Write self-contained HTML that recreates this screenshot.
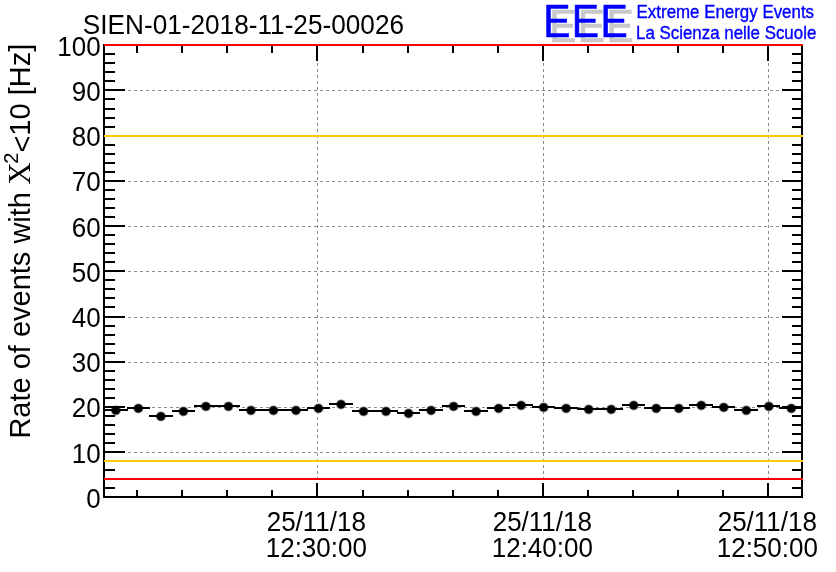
<!DOCTYPE html><html><head><meta charset="utf-8"><style>html,body{margin:0;padding:0;background:#fff;}body{width:836px;height:572px;overflow:hidden;}svg{display:block;}text{font-family:"Liberation Sans",Arial,sans-serif;}</style></head><body>
<svg width="836" height="572" viewBox="0 0 836 572" style="will-change:transform">
<rect width="836" height="572" fill="#fff"/>
<path d="M105 452.5H801 M105 407.5H801 M105 362.5H801 M105 317.5H801 M105 271.5H801 M105 226.5H801 M105 181.5H801 M105 136.5H801 M105 90.5H801 M317.5 46V496 M543.5 46V496 M768.5 46V496" stroke="#8c8c8c" stroke-width="1" stroke-dasharray="3 3" stroke-dashoffset="1" fill="none" shape-rendering="crispEdges"/>
<g fill="#8a8a8a"><circle cx="115.86" cy="410.40" r="5"/><circle cx="138.37" cy="408.40" r="5"/><circle cx="160.89" cy="416.40" r="5"/><circle cx="183.41" cy="411.40" r="5"/><circle cx="205.92" cy="406.40" r="5"/><circle cx="228.44" cy="406.40" r="5"/><circle cx="250.95" cy="410.40" r="5"/><circle cx="273.47" cy="410.40" r="5"/><circle cx="295.99" cy="410.40" r="5"/><circle cx="318.50" cy="408.40" r="5"/><circle cx="341.02" cy="404.40" r="5"/><circle cx="363.54" cy="411.40" r="5"/><circle cx="386.05" cy="411.40" r="5"/><circle cx="408.57" cy="413.40" r="5"/><circle cx="431.08" cy="410.40" r="5"/><circle cx="453.60" cy="406.40" r="5"/><circle cx="476.12" cy="411.40" r="5"/><circle cx="498.63" cy="408.40" r="5"/><circle cx="521.15" cy="405.40" r="5"/><circle cx="543.66" cy="407.40" r="5"/><circle cx="566.18" cy="408.40" r="5"/><circle cx="588.70" cy="409.40" r="5"/><circle cx="611.21" cy="409.40" r="5"/><circle cx="633.73" cy="405.40" r="5"/><circle cx="656.25" cy="408.40" r="5"/><circle cx="678.76" cy="408.40" r="5"/><circle cx="701.28" cy="405.40" r="5"/><circle cx="723.79" cy="407.40" r="5"/><circle cx="746.31" cy="410.40" r="5"/><circle cx="768.83" cy="406.40" r="5"/><circle cx="791.34" cy="408.40" r="5"/></g>
<path d="M104 410H128 M127 408H150 M149 416H173 M172 411H195 M194 406H218 M217 406H240 M239 410H263 M262 410H285 M284 410H308 M307 408H330 M329 404H353 M352 411H375 M374 411H398 M397 413H420 M419 410H443 M442 406H465 M464 411H488 M487 408H510 M509 405H533 M532 407H555 M554 408H578 M577 409H600 M599 409H623 M622 405H645 M644 408H668 M667 408H690 M689 405H713 M712 407H735 M734 410H758 M757 406H780 M779 408H803" stroke="#000" stroke-width="2" fill="none" shape-rendering="crispEdges"/>
<g fill="#000"><circle cx="115.86" cy="410.40" r="4.2"/><circle cx="138.37" cy="408.40" r="4.2"/><circle cx="160.89" cy="416.40" r="4.2"/><circle cx="183.41" cy="411.40" r="4.2"/><circle cx="205.92" cy="406.40" r="4.2"/><circle cx="228.44" cy="406.40" r="4.2"/><circle cx="250.95" cy="410.40" r="4.2"/><circle cx="273.47" cy="410.40" r="4.2"/><circle cx="295.99" cy="410.40" r="4.2"/><circle cx="318.50" cy="408.40" r="4.2"/><circle cx="341.02" cy="404.40" r="4.2"/><circle cx="363.54" cy="411.40" r="4.2"/><circle cx="386.05" cy="411.40" r="4.2"/><circle cx="408.57" cy="413.40" r="4.2"/><circle cx="431.08" cy="410.40" r="4.2"/><circle cx="453.60" cy="406.40" r="4.2"/><circle cx="476.12" cy="411.40" r="4.2"/><circle cx="498.63" cy="408.40" r="4.2"/><circle cx="521.15" cy="405.40" r="4.2"/><circle cx="543.66" cy="407.40" r="4.2"/><circle cx="566.18" cy="408.40" r="4.2"/><circle cx="588.70" cy="409.40" r="4.2"/><circle cx="611.21" cy="409.40" r="4.2"/><circle cx="633.73" cy="405.40" r="4.2"/><circle cx="656.25" cy="408.40" r="4.2"/><circle cx="678.76" cy="408.40" r="4.2"/><circle cx="701.28" cy="405.40" r="4.2"/><circle cx="723.79" cy="407.40" r="4.2"/><circle cx="746.31" cy="410.40" r="4.2"/><circle cx="768.83" cy="406.40" r="4.2"/><circle cx="791.34" cy="408.40" r="4.2"/></g>
<path d="M104 44V498 M103 497H803 M802 44V498 M103 45H803 M105 488H115 M801 488H792 M105 479H115 M801 479H792 M105 470H115 M801 470H792 M105 461H115 M801 461H792 M105 452H125 M801 452H782 M105 443H115 M801 443H792 M105 434H115 M801 434H792 M105 425H115 M801 425H792 M105 416H115 M801 416H792 M105 407H125 M801 407H782 M105 398H115 M801 398H792 M105 389H115 M801 389H792 M105 380H115 M801 380H792 M105 371H115 M801 371H792 M105 362H125 M801 362H782 M105 353H115 M801 353H792 M105 344H115 M801 344H792 M105 335H115 M801 335H792 M105 326H115 M801 326H792 M105 317H125 M801 317H782 M105 307H115 M801 307H792 M105 298H115 M801 298H792 M105 289H115 M801 289H792 M105 280H115 M801 280H792 M105 271H125 M801 271H782 M105 262H115 M801 262H792 M105 253H115 M801 253H792 M105 244H115 M801 244H792 M105 235H115 M801 235H792 M105 226H125 M801 226H782 M105 217H115 M801 217H792 M105 208H115 M801 208H792 M105 199H115 M801 199H792 M105 190H115 M801 190H792 M105 181H125 M801 181H782 M105 172H115 M801 172H792 M105 163H115 M801 163H792 M105 154H115 M801 154H792 M105 145H115 M801 145H792 M105 136H125 M801 136H782 M105 127H115 M801 127H792 M105 118H115 M801 118H792 M105 109H115 M801 109H792 M105 99H115 M801 99H792 M105 90H125 M801 90H782 M105 81H115 M801 81H792 M105 72H115 M801 72H792 M105 63H115 M801 63H792 M105 54H115 M801 54H792 M137 496V490 M137 46V53 M182 496V490 M182 46V53 M227 496V490 M227 46V53 M272 496V490 M272 46V53 M317 496V483 M317 46V61 M363 496V490 M363 46V53 M408 496V490 M408 46V53 M453 496V490 M453 46V53 M498 496V490 M498 46V53 M543 496V483 M543 46V61 M588 496V490 M588 46V53 M633 496V490 M633 46V53 M678 496V490 M678 46V53 M723 496V490 M723 46V53 M768 496V483 M768 46V61" stroke="#000" stroke-width="2" fill="none" shape-rendering="crispEdges"/>
<path d="M104 136H803 M104 461H803" stroke="#ffcc00" stroke-width="2" shape-rendering="crispEdges"/>
<path d="M104 45H803 M104 479H803" stroke="#ff0000" stroke-width="2" shape-rendering="crispEdges"/>
<text transform="translate(100.6,507.8) scale(1,1.08)" font-size="26" text-anchor="end">0</text>
<text transform="translate(100.6,462.6) scale(1,1.08)" font-size="26" text-anchor="end">10</text>
<text transform="translate(100.6,417.4) scale(1,1.08)" font-size="26" text-anchor="end">20</text>
<text transform="translate(100.6,372.1) scale(1,1.08)" font-size="26" text-anchor="end">30</text>
<text transform="translate(100.6,326.9) scale(1,1.08)" font-size="26" text-anchor="end">40</text>
<text transform="translate(100.6,281.7) scale(1,1.08)" font-size="26" text-anchor="end">50</text>
<text transform="translate(100.6,236.5) scale(1,1.08)" font-size="26" text-anchor="end">60</text>
<text transform="translate(100.6,191.3) scale(1,1.08)" font-size="26" text-anchor="end">70</text>
<text transform="translate(100.6,146.0) scale(1,1.08)" font-size="26" text-anchor="end">80</text>
<text transform="translate(100.6,100.8) scale(1,1.08)" font-size="26" text-anchor="end">90</text>
<text transform="translate(100.6,55.6) scale(1,1.08)" font-size="26" text-anchor="end">100</text>
<text transform="translate(316.3,530.6) scale(1,1.05)" font-size="26" text-anchor="middle">25/11/18</text>
<text transform="translate(316.3,557.1) scale(1,1.05)" font-size="26" text-anchor="middle">12:30:00</text>
<text transform="translate(542.3,530.6) scale(1,1.05)" font-size="26" text-anchor="middle">25/11/18</text>
<text transform="translate(542.3,557.1) scale(1,1.05)" font-size="26" text-anchor="middle">12:40:00</text>
<text transform="translate(767.3,530.6) scale(1,1.05)" font-size="26" text-anchor="middle">25/11/18</text>
<text transform="translate(767.3,557.1) scale(1,1.05)" font-size="26" text-anchor="middle">12:50:00</text>
<text transform="translate(82.8,33.9) scale(1,1.045)" font-size="26.2">SIEN-01-2018-11-25-00026</text>
<text transform="translate(30.1,438.6) rotate(-90) scale(1,1.035)" font-size="29">Rate of events with <tspan font-family="Liberation Serif, serif" font-size="30.5" dx="-0.5">&#935;</tspan><tspan font-size="20" dx="-1.2" dy="-11.8">2</tspan><tspan dy="13.3">&lt;</tspan><tspan dy="-1.5">10 [Hz]</tspan></text>
<g font-size="43" stroke-width="0.6">
<text transform="translate(549.2,41.8) scale(0.95,1.06)" letter-spacing="1.5" fill="#c8c8c8" stroke="#c8c8c8">EEE</text>
<text transform="translate(543.2,36.8) scale(0.95,1.06)" letter-spacing="1.5" fill="#0000ff" stroke="#0000ff">EEE</text>
</g>
<g font-size="16.9" fill="#0000ff" stroke="#0000ff" stroke-width="0.35">
<text transform="translate(636.6,18) scale(1,1.08)">Extreme Energy Events</text>
<text transform="translate(636,38.6) scale(1,1.08)">La Scienza nelle Scuole</text>
</g>
</svg></body></html>
